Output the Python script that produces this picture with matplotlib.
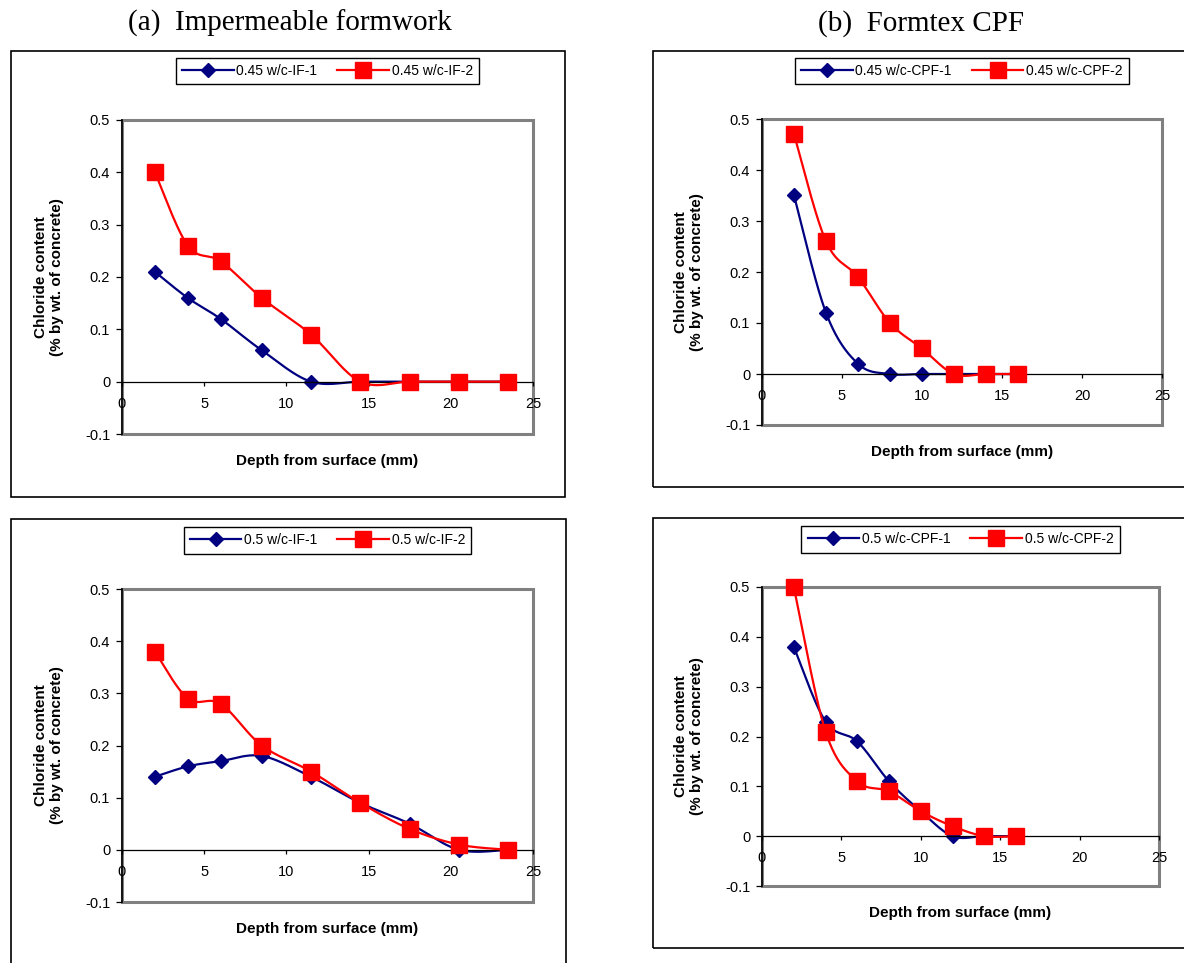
import numpy as np
import matplotlib
matplotlib.use('Agg')
import matplotlib.pyplot as plt
from matplotlib.patches import Rectangle
from matplotlib.lines import Line2D

plt.rcParams['font.family'] = ['Liberation Sans', 'DejaVu Sans']

W, H = 1184, 963

# depths (mm)
depth_if = [2, 4, 6, 8.5, 11.5, 14.5, 17.5, 20.5, 23.5]
depth_cpf = [2, 4, 6, 8, 10, 12, 14, 16]

# chloride content (% by wt. of concrete)
if45_1 = [0.21, 0.16, 0.12, 0.06, 0.0, 0.0, 0.0, 0.0, 0.0]
if45_2 = [0.40, 0.26, 0.23, 0.16, 0.09, 0.0, 0.0, 0.0, 0.0]
cpf45_1 = [0.35, 0.12, 0.02, 0.0, 0.0, 0.0, 0.0, 0.0]
cpf45_2 = [0.47, 0.26, 0.19, 0.10, 0.05, 0.0, 0.0, 0.0]
if50_1 = [0.14, 0.16, 0.17, 0.18, 0.14, 0.09, 0.05, 0.0, 0.0]
if50_2 = [0.38, 0.29, 0.28, 0.20, 0.15, 0.09, 0.04, 0.01, 0.0]
cpf50_1 = [0.38, 0.23, 0.19, 0.11, 0.05, 0.0, 0.0, 0.0]
cpf50_2 = [0.50, 0.21, 0.11, 0.09, 0.05, 0.02, 0.0, 0.0]

xticks = [0, 5, 10, 15, 20, 25]
yticks = [-0.1, 0, 0.1, 0.2, 0.3, 0.4, 0.5]
ytick_labels = ['-0.1', '0', '0.1', '0.2', '0.3', '0.4', '0.5']

titles = ['(a)  Impermeable formwork', '(b)  Formtex CPF']

BLUE = '#000080'
RED = '#ff0000'


def smooth(x, y, n=25):
    # excel-like smoothed line (bezier through the points)
    p = np.column_stack([x, y]).astype(float)
    pts = np.vstack([p[0], p, p[-1]])
    t = np.linspace(0, 1, n)[1:, None]
    out = [p[:1]]
    for i in range(len(p) - 1):
        p0, p1, p2, p3 = pts[i], pts[i + 1], pts[i + 2], pts[i + 3]
        c1 = p1 + (p2 - p0) / 6
        c2 = p2 - (p3 - p1) / 6
        out.append((1 - t) ** 3 * p1 + 3 * (1 - t) ** 2 * t * c1
                   + 3 * (1 - t) * t ** 2 * c2 + t ** 3 * p2)
    out = np.vstack(out)
    return out[:, 0], out[:, 1]


fig = plt.figure(figsize=(W / 100, H / 100), dpi=100)


def px_rect(l, t, r, b):
    return [l / W, 1 - b / H, (r - l) / W, (b - t) / H]


def panel(frame, plot, leg_top, x, s1, s2, names):
    fl, ft, fr, fb = frame
    fig.add_artist(Rectangle((fl / W, 1 - fb / H), (fr - fl) / W, (fb - ft) / H,
                             transform=fig.transFigure, fill=False,
                             ec='black', lw=1.2))
    l, t, r, b = plot
    ax = fig.add_axes(px_rect(l, t, r, b))
    ax.set_xlim(0, 25)
    ax.set_ylim(-0.1, 0.5)
    ax.add_patch(Rectangle((0, 0), 1, 1, transform=ax.transAxes, fill=False,
                           ec='#808080', lw=2.2, clip_on=False, zorder=1))
    for sp in ['top', 'right']:
        ax.spines[sp].set_visible(False)
    ax.spines['bottom'].set_position(('data', 0))
    ax.spines['bottom'].set_linewidth(0.9)
    ax.spines['left'].set_linewidth(1.2)
    ax.spines['left'].set_zorder(1.5)
    ax.set_xticks(xticks)
    ax.set_yticks(yticks)
    ax.set_yticklabels(ytick_labels)
    ax.tick_params(axis='x', direction='out', length=3, width=0.9, pad=8, labelsize=10.5)
    ax.tick_params(axis='y', direction='out', length=4.5, width=0.9, pad=4, labelsize=10.5)

    xs, ys = smooth(x, s1)
    ax.plot(xs, ys, color=BLUE, lw=1.6, clip_on=False, zorder=2)
    ax.plot(x, s1, ls='none', marker='D', ms=7.5, color=BLUE, clip_on=False, zorder=2)
    xs, ys = smooth(x, s2)
    ax.plot(xs, ys, color=RED, lw=1.6, clip_on=False, zorder=3)
    ax.plot(x, s2, ls='none', marker='s', ms=11, color=RED, clip_on=False, zorder=3)

    ax.set_xlabel('Depth from surface (mm)', fontsize=11, fontweight='bold')
    ax.xaxis.set_label_coords(0.5, -27 / (b - t))
    ax.xaxis.label.set_va('center')
    ax.set_ylabel('Chloride content\n(% by wt. of concrete)', fontsize=11,
                  fontweight='bold', linespacing=1.15)
    ax.yaxis.set_label_coords(-73 / (r - l), 0.5)
    ax.yaxis.label.set_va('center')

    handles = [Line2D([], [], color=BLUE, lw=1.6, marker='D', ms=7.5),
               Line2D([], [], color=RED, lw=1.6, marker='s', ms=11)]
    leg = ax.legend(handles, names, loc='upper center', ncol=2,
                    bbox_to_anchor=((l + r) / 2 / W, 1 - leg_top / H),
                    bbox_transform=fig.transFigure, fontsize=10,
                    fancybox=False, edgecolor='black', framealpha=1,
                    handlelength=3.7, handletextpad=0.2, columnspacing=1.45,
                    borderpad=0.45, borderaxespad=0)
    leg.get_frame().set_linewidth(1.0)
    return ax


panel((11, 51, 565, 497), (122, 120, 533, 434), 58, depth_if, if45_1, if45_2,
      ['0.45 w/c-IF-1', '0.45 w/c-IF-2'])
panel((653, 51, 1195, 487), (762, 119, 1162, 425), 58, depth_cpf, cpf45_1, cpf45_2,
      ['0.45 w/c-CPF-1', '0.45 w/c-CPF-2'])
panel((11, 519, 566, 975), (122, 589, 533, 902), 527, depth_if, if50_1, if50_2,
      ['0.5 w/c-IF-1', '0.5 w/c-IF-2'])
panel((653, 518, 1195, 948), (762, 587, 1159, 886), 526, depth_cpf, cpf50_1, cpf50_2,
      ['0.5 w/c-CPF-1', '0.5 w/c-CPF-2'])

fig.text(290 / W, 1 - 31 / H, titles[0], ha='center', va='baseline',
         fontsize=21, family='Liberation Serif')
fig.text(921 / W, 1 - 31 / H, titles[1], ha='center', va='baseline',
         fontsize=21, family='Liberation Serif')

fig.savefig('out.png', dpi=100)
